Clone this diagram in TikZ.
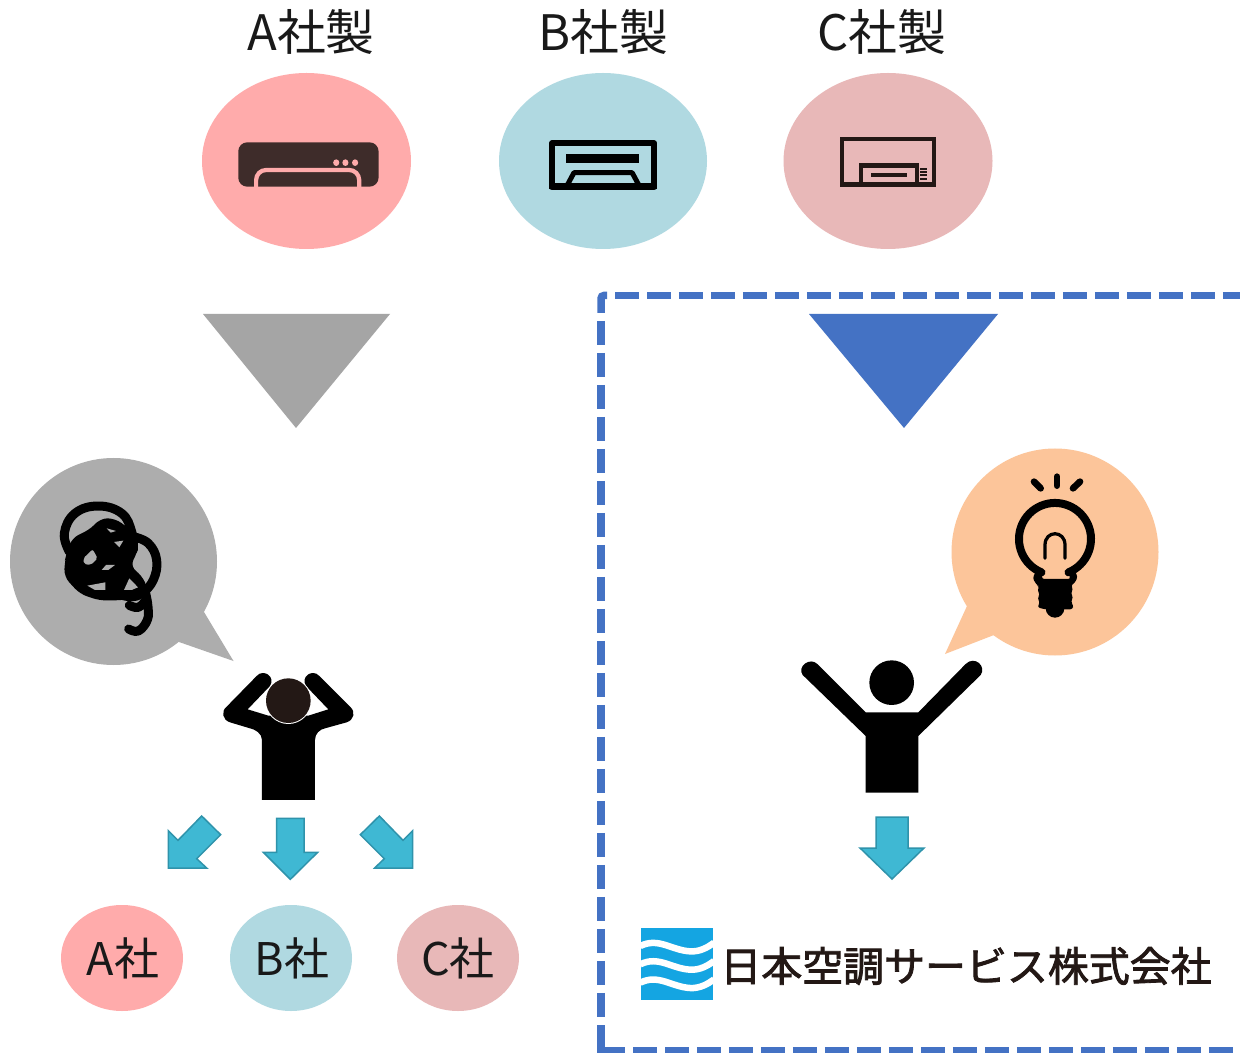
\documentclass[tikz,border=0pt]{standalone}
\usepackage{fontspec}
\setmainfont{Noto Sans CJK JP}
\newfontfamily\logofont[FakeBold=2]{Noto Sans CJK JP}
\definecolor{cpink}{HTML}{FFABAB}
\definecolor{cblue}{HTML}{B0D9E1}
\definecolor{crose}{HTML}{E8B8B8}
\definecolor{cgray}{HTML}{A5A5A5}
\definecolor{cbub}{HTML}{ADADAD}
\definecolor{corange}{HTML}{FCC59A}
\definecolor{cdash}{HTML}{4472C4}
\definecolor{carrow}{HTML}{3FB8D3}
\definecolor{carrowedge}{HTML}{2F93AB}
\definecolor{cbrown}{HTML}{3E2C2A}
\definecolor{cdark}{HTML}{231815}
\definecolor{clogo}{HTML}{14A5E2}
\tikzset{
  maker/.style={font=\fontsize{27.8pt}{30pt}\selectfont, text=black!90, inner sep=0pt},
  firm/.style={font=\fontsize{25.6pt}{28pt}\selectfont, text=black!90, inner sep=0pt},
  flow/.style={fill=carrow, draw=carrowedge, line width=0.03cm, line join=miter},
  scribble/.style={draw=black, line width=0.18cm, line cap=round, line join=round},
  wave/.style={draw=white, line width=0.13cm},
  frameline/.style={cdash, line width=0.15cm},
  framedash/.style={frameline, dash pattern=on 0.48cm off 0.16cm},
}
\begin{document}
\begin{tikzpicture}[x=0.02cm,y=-0.02cm]
\useasboundingbox (0,0) rectangle (1240,1053);
\fill[white] (0,0) rectangle (1240,1053);
% top row
\fill[cpink] (306.5,161) ellipse [x radius=104.5, y radius=88];
\fill[cblue] (603,161) ellipse [x radius=104, y radius=88];
\fill[crose] (888,161) ellipse [x radius=104.5, y radius=88];
\node[maker] (la) at (311,32) {A社製};
\node[maker] (lb) at (603.5,32) {B社製};
\node[maker] (lc) at (882,32) {C社製};
% icons
\begin{scope}[shift={(200,70)},xscale=1/1.96,yscale=1/3]
  \fill[cbrown,rounded corners=0.18cm] (75,217) rectangle (350,350);
  \draw[cpink,line width=0.085cm,rounded corners=0.2cm] (110,352) -- (110,300) -- (312,300) -- (312,352);
  \foreach \dx in {267,285,304} \fill[cpink] (\dx,278) ellipse [x radius=6, y radius=10];
  % B
  \draw[black,line width=0.12cm,line join=round] (690,220) rectangle (890,352);
  \fill[black] (718,252) rectangle (860,278);
  \draw[black,line width=0.1cm,line join=round] (720,345) -- (733,308) -- (847,308) -- (860,345);
  \fill[black] (685,340) rectangle (895,357);
  % C
  \draw[cdark,line width=0.08cm] (1259,206) rectangle (1439,345);
  \fill[cdark] (1256,202) rectangle (1441,213);
  \draw[cdark,line width=0.09cm] (1296,345) -- (1296,286) -- (1405,286) -- (1405,345);
  \fill[cdark] (1296,286) rectangle (1405,295);
  \fill[cdark] (1315,310) rectangle (1385,320);
  \fill[cdark] (1258,337) rectangle (1440,347);
  \foreach \vy in {293,303,313,323} \fill[cdark] (1412,\vy) rectangle (1425,\vy+6);
\end{scope}
% triangles
\fill[cgray] (203,314) -- (390,314) -- (296,428) -- cycle;
\fill[cdash] (809,314) -- (998,314) -- (904,428) -- cycle;
% dashed frame
\draw[frameline,rounded corners=0.06cm] (601,313) -- (601,295.5) -- (607,295.5);
\draw[framedash] (615,295.5) -- (1250,295.5);
\draw[framedash] (601,321) -- (601,1017);
\draw[frameline] (601,1025) -- (601,1051) -- (625,1051);
\draw[framedash] (633,1051) -- (1250,1051);
% left bubble
\fill[cbub] (113.5,561.5) circle [radius=103.5];
\fill[cbub] (204,612) -- (233.5,661) -- (179,642) -- (150,600) -- cycle;
\begin{scope}[shift={(0,450)},scale=1/3]
  % the tangle
  \draw[scribble] plot[smooth,tension=0.7] coordinates {(208,305) (193,250) (225,190) (295,168) (365,190) (395,245) (400,300)};
  \draw[scribble] plot[smooth,tension=0.7] coordinates {(400,260) (445,280) (470,330) (460,390) (425,430) (390,440) (345,430)};
  \draw[scribble] plot[smooth,tension=0.7] coordinates {(388,466) (415,472) (438,450)};
  \draw[scribble] plot[smooth,tension=0.7] coordinates {(386,537) (415,543) (442,510) (444,470) (437,430)};
  \fill[black,rounded corners=0.15cm] (200,310) -- (215,265) -- (275,235) -- (300,205) -- (345,205) -- (400,245) -- (415,300) -- (390,350) -- (425,375) -- (445,420) -- (380,450) -- (300,452) -- (240,432) -- (192,380) -- (195,330) -- cycle;
  \fill[cbub,rounded corners=0.04cm] (250,325) -- (278,298) -- (293,325) -- (272,345) -- (252,342) -- cycle;
  \fill[cbub] (305,360) -- (318,345) -- (345,345) -- (325,360) -- cycle;
  \fill[cbub] (342,276) -- (370,272) -- (358,292) -- cycle;
  \fill[cbub] (320,235) -- (348,243) -- (332,248) -- cycle;
  \fill[cbub] (262,407) -- (316,397) -- (316,420) -- (285,420) -- cycle;
  \fill[cbub] (372,420) -- (388,385) -- (414,412) -- (395,420) -- cycle;
  % person, hands on head
  \fill[black] (786,1050) -- (786,870) .. controls (786,850) and (765,838) .. (750,835)
    -- (690,817) .. controls (668,810) and (662,785) .. (680,770)
    -- (770,678) .. controls (790,655) and (828,680) .. (810,708)
    -- (743,778) -- (805,797) -- (925,797)
    -- (985,778) -- (918,708) .. controls (900,680) and (938,655) .. (958,678)
    -- (1050,770) .. controls (1068,785) and (1062,810) .. (1040,817)
    -- (975,835) .. controls (960,838) and (945,850) .. (945,870) -- (945,1050) -- cycle;
  \fill[white] (865,752) circle [radius=70];
  \fill[cdark] (865,752) circle [radius=67];
\end{scope}
% right bubble
\fill[corange] (1055,552) circle [radius=103.5];
\fill[corange] (967,606) -- (945,654) -- (994,635) -- (1040,600) -- cycle;
% bulb
\begin{scope}[shift={(1000,470)},scale=1/3]
  \draw[black,line width=0.16cm,line cap=round] (124.5,307) arc [start angle=112, end angle=428, radius=108];
  \draw[black,line width=0.065cm,line cap=round] (135,265) -- (135,225) .. controls (135,180) and (195,180) .. (195,225) -- (195,265);
  \draw[black,line width=0.133cm,line cap=round] (102,35) -- (122,55);
  \draw[black,line width=0.133cm,line cap=round] (171,20) -- (171,47);
  \draw[black,line width=0.133cm,line cap=round] (240,35) -- (219,55);
  \fill[black,rounded corners=0.05cm] (110,298) -- (98,325) -- (112,347) -- (118,348) -- (112,362) -- (120,373) -- (112,385) -- (120,397) -- (112,412) -- (135,418) -- (218,418) -- (220,405) -- (212,395) -- (220,382) -- (212,370) -- (220,357) -- (212,347) -- (225,338) -- (233,320) -- (222,298) -- (205,310) -- (212,327) -- (125,327) -- (128,310) -- cycle;
  \fill[black] (165,415) circle [radius=28];
\end{scope}
\begin{scope}[shift={(790,440)},scale=1/3]
  % person, arms raised
  \fill[black] (305,728) circle [radius=67];
  \fill[black] (227,1058) -- (385,1058) -- (385,888) -- (572,705)
    .. controls (590,680) and (555,645) .. (527,672)
    -- (385,817) -- (227,817) -- (82,672)
    .. controls (60,650) and (20,680) .. (38,705)
    -- (227,888) -- cycle;
\end{scope}
% down arrows
\begin{scope}[shift={(150,800)},scale=1/3]
  \draw[flow] (155,48) -- (212,104) -- (140,176) -- (170,204) -- (55,204) -- (55,92) -- (84,121) -- cycle;
  \draw[flow] (380,55) -- (462,55) -- (462,157) -- (503,157) -- (421,238) -- (340,157) -- (380,157) -- cycle;
  \draw[flow] (688,48) -- (631,104) -- (703,176) -- (674,204) -- (788,204) -- (788,92) -- (759,121) -- cycle;
\end{scope}
\draw[flow] (876,817) -- (908,817) -- (908,848) -- (924,848) -- (892,879) -- (860,848) -- (876,848) -- cycle;
% firms
\fill[cpink] (122,958) ellipse [x radius=61, y radius=53];
\fill[cblue] (291,958) ellipse [x radius=61, y radius=53];
\fill[crose] (458,958) ellipse [x radius=61, y radius=53];
\node[firm] (fa) at (123,958) {A社};
\node[firm] (fb) at (292,958) {B社};
\node[firm] (fc) at (458,958) {C社};
% logo
\fill[clogo] (641,928) rectangle (713,1000);
\begin{scope}[shift={(635,922)},scale=1/3]
  \foreach \o in {0,55,110}
    \draw[wave] (16,72+\o) .. controls (70,45+\o) and (110,85+\o) .. (165,88+\o) .. controls (195,90+\o) and (220,75+\o) .. (237,62+\o);
\end{scope}
\node[font=\logofont\fontsize{23.3pt}{26pt}\selectfont,text=cdark,inner sep=0pt] (logo) at (966,966) {日本空調サービス株式会社};
\end{tikzpicture}
\end{document}
